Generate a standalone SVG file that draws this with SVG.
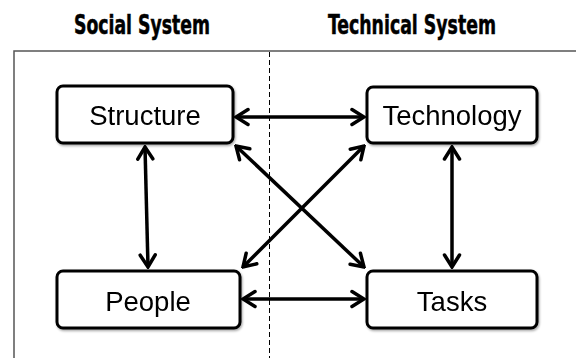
<svg xmlns="http://www.w3.org/2000/svg" width="576" height="358" viewBox="0 0 576 358">
  <defs>
    <filter id="shadow" x="-10%" y="-20%" width="130%" height="150%">
      <feDropShadow dx="1" dy="1.5" stdDeviation="1.2" flood-color="#000" flood-opacity="0.35"/>
    </filter>
    <marker id="arrow" viewBox="-15 -10 17 20" markerWidth="17" markerHeight="20" refX="0" refY="0" orient="auto-start-reverse" markerUnits="userSpaceOnUse">
      <path d="M -12,-7.5 L 0,0 L -12,7.5" fill="none" stroke="#000" stroke-width="3.5" stroke-linecap="round" stroke-linejoin="miter"/>
    </marker>
    <style>
      .title { font-family: "Liberation Sans Narrow", "DejaVu Sans Condensed", "Liberation Sans", sans-serif; font-weight: bold; font-size: 26.5px; fill: #000; stroke: #000; stroke-width: 0.5; text-anchor: middle; }
      .frame { fill: none; stroke: #555; stroke-width: 1.5; }
      .divider { fill: none; stroke: #000; stroke-width: 1; stroke-dasharray: 5 3; }
      .box { fill: #fff; stroke: #000; stroke-width: 3; }
      .label { font-family: "Liberation Sans", Arial, sans-serif; font-size: 27.5px; fill: #000; text-anchor: middle; }
      .link { fill: none; stroke: #000; stroke-width: 3.5; marker-start: url(#arrow); marker-end: url(#arrow); }
    </style>
  </defs>

  <rect width="576" height="358" fill="#fff"/>

  <!-- column headings -->
  <text class="title" x="142" y="33.5" textLength="136" lengthAdjust="spacingAndGlyphs">Social System</text>
  <text class="title" x="412" y="33.5" textLength="168" lengthAdjust="spacingAndGlyphs">Technical System</text>

  <!-- outer frame and social/technical divider -->
  <path class="frame" d="M 14,358 L 14,51 L 576,51"/>
  <line class="divider" x1="269.5" y1="52" x2="269.5" y2="358"/>

  <!-- connectors -->
  <g id="connectors">
    <line class="link" x1="236" y1="117" x2="364" y2="117"/>
    <line class="link" x1="243" y1="299" x2="364" y2="299"/>
    <line class="link" x1="145" y1="147" x2="148" y2="267"/>
    <line class="link" x1="452" y1="147" x2="452" y2="267"/>
    <line class="link" x1="236" y1="146" x2="364" y2="267"/>
    <line class="link" x1="364" y1="146" x2="243" y2="267"/>
  </g>

  <!-- nodes -->
  <g id="structure" filter="url(#shadow)">
    <rect class="box" x="57" y="86" width="176" height="57" rx="6"/>
    <text class="label" x="145" y="125">Structure</text>
  </g>
  <g id="technology" filter="url(#shadow)">
    <rect class="box" x="367" y="87" width="170" height="56" rx="6"/>
    <text class="label" x="452" y="125">Technology</text>
  </g>
  <g id="people" filter="url(#shadow)">
    <rect class="box" x="57" y="271" width="183" height="57" rx="6"/>
    <text class="label" x="148" y="311">People</text>
  </g>
  <g id="tasks" filter="url(#shadow)">
    <rect class="box" x="367" y="271" width="170" height="57" rx="6"/>
    <text class="label" x="452" y="311">Tasks</text>
  </g>
</svg>
